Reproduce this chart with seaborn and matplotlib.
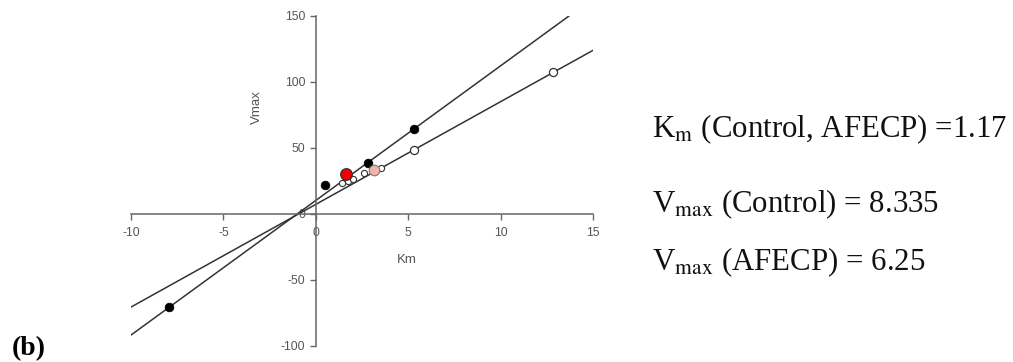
import matplotlib
matplotlib.use("Agg")
import matplotlib.pyplot as plt
import seaborn as sns
import pandas as pd

# ---- data ----
line1_x = [-10, 13.7]
line1_y = [-91.7, 150]
line2_x = [-10, 15]
line2_y = [-70.5, 124]

black_x = [-7.93, 0.50, 2.81, 5.31]
black_y = [-70.2, 22.0, 38.9, 64.4]

white_small_x = [1.42, 1.74, 2.02, 2.59, 3.55]
white_small_y = [23.5, 25.0, 26.3, 30.8, 34.6]

white_big_x = [5.31, 12.86]
white_big_y = [48.7, 107.8]

red_x = [1.66]
red_y = [30.5]
pink_x = [3.14]
pink_y = [33.3]

x_ticks = [-10, -5, 0, 5, 10, 15]
y_ticks = [-100, -50, 0, 50, 100, 150]

annotations = [
    r"K$_{\mathrm{m}}$ (Control, AFECP) =1.17",
    r"V$_{\mathrm{max}}$ (Control) = 8.335",
    r"V$_{\mathrm{max}}$ (AFECP) = 6.25",
]
panel_label = "(b)"

# ---- figure ----
sns.set_style("white")
plt.rcParams["font.family"] = ["Liberation Sans", "DejaVu Sans"]
plt.rcParams["mathtext.fontset"] = "stix"

fig = plt.figure(figsize=(10.13, 3.62), dpi=100)
ax = fig.add_axes([131 / 1013, (362 - 346) / 362, 462 / 1013, 330 / 362])
ax.set_facecolor("none")

line_col = "#333333"
df1 = pd.DataFrame({"x": line1_x, "y": line1_y})
df2 = pd.DataFrame({"x": line2_x, "y": line2_y})
sns.lineplot(data=df1, x="x", y="y", ax=ax, color=line_col, lw=1.1, sort=False, zorder=2)
sns.lineplot(data=df2, x="x", y="y", ax=ax, color=line_col, lw=1.1, sort=False, zorder=2)

sns.scatterplot(x=white_small_x, y=white_small_y, ax=ax, s=20, color="white",
                edgecolor="#333333", linewidth=0.8, zorder=3)
sns.scatterplot(x=white_big_x, y=white_big_y, ax=ax, s=34, color="white",
                edgecolor="#333333", linewidth=0.9, zorder=3)
sns.scatterplot(x=black_x, y=black_y, ax=ax, s=38, color="black",
                edgecolor="black", linewidth=0.6, zorder=4)
sns.scatterplot(x=pink_x, y=pink_y, ax=ax, s=58, color="#f2b3aa",
                edgecolor="#777777", linewidth=0.8, zorder=4)
sns.scatterplot(x=red_x, y=red_y, ax=ax, s=70, color="#ee0000",
                edgecolor="#333333", linewidth=0.9, zorder=5)

ax.set_xlim(-10, 15)
ax.set_ylim(-100, 150)
ax.set_xticks(x_ticks)
ax.set_yticks(y_ticks)
ax.set_xticklabels([str(t) for t in x_ticks])
ax.set_yticklabels([str(t) for t in y_ticks])

axis_col = "#666666"
for side in ["top", "right"]:
    ax.spines[side].set_visible(False)
ax.spines["left"].set_position(("data", 0))
ax.spines["bottom"].set_position(("data", 0))
for side in ["left", "bottom"]:
    ax.spines[side].set_color(axis_col)
    ax.spines[side].set_linewidth(1.1)
ax.tick_params(axis="both", direction="out", length=4, width=1.0, color=axis_col,
               labelsize=8.8, labelcolor="#555555")
ax.tick_params(axis="x", pad=5)
ax.tick_params(axis="y", pad=3.5)
ax.xaxis.set_ticks_position("bottom")
ax.yaxis.set_ticks_position("left")

ax.set_xlabel("Km", fontsize=9.5, color="#555555")
ax.set_ylabel("Vmax", fontsize=9.5, color="#555555")
ax.xaxis.set_label_coords((406.7 - 131) / 462, (346 - 260) / 330)
ax.xaxis.label.set_va("center")
ax.yaxis.set_label_coords((256.7 - 131) / 462, (346 - 106.7) / 330)
ax.yaxis.label.set_va("center")

# right-hand annotations
baselines = [137, 212, 270]
for txt, yb in zip(annotations, baselines):
    fig.text(652 / 1013, 1 - yb / 362, txt, fontsize=22.2, family="Liberation Serif",
             color="#111111", ha="left", va="baseline")

fig.text(12 / 1013, 1 - 355 / 362, panel_label, fontsize=20, family="Liberation Serif",
         weight="bold", color="black", ha="left", va="baseline")

fig.savefig("out.png", dpi=100)
